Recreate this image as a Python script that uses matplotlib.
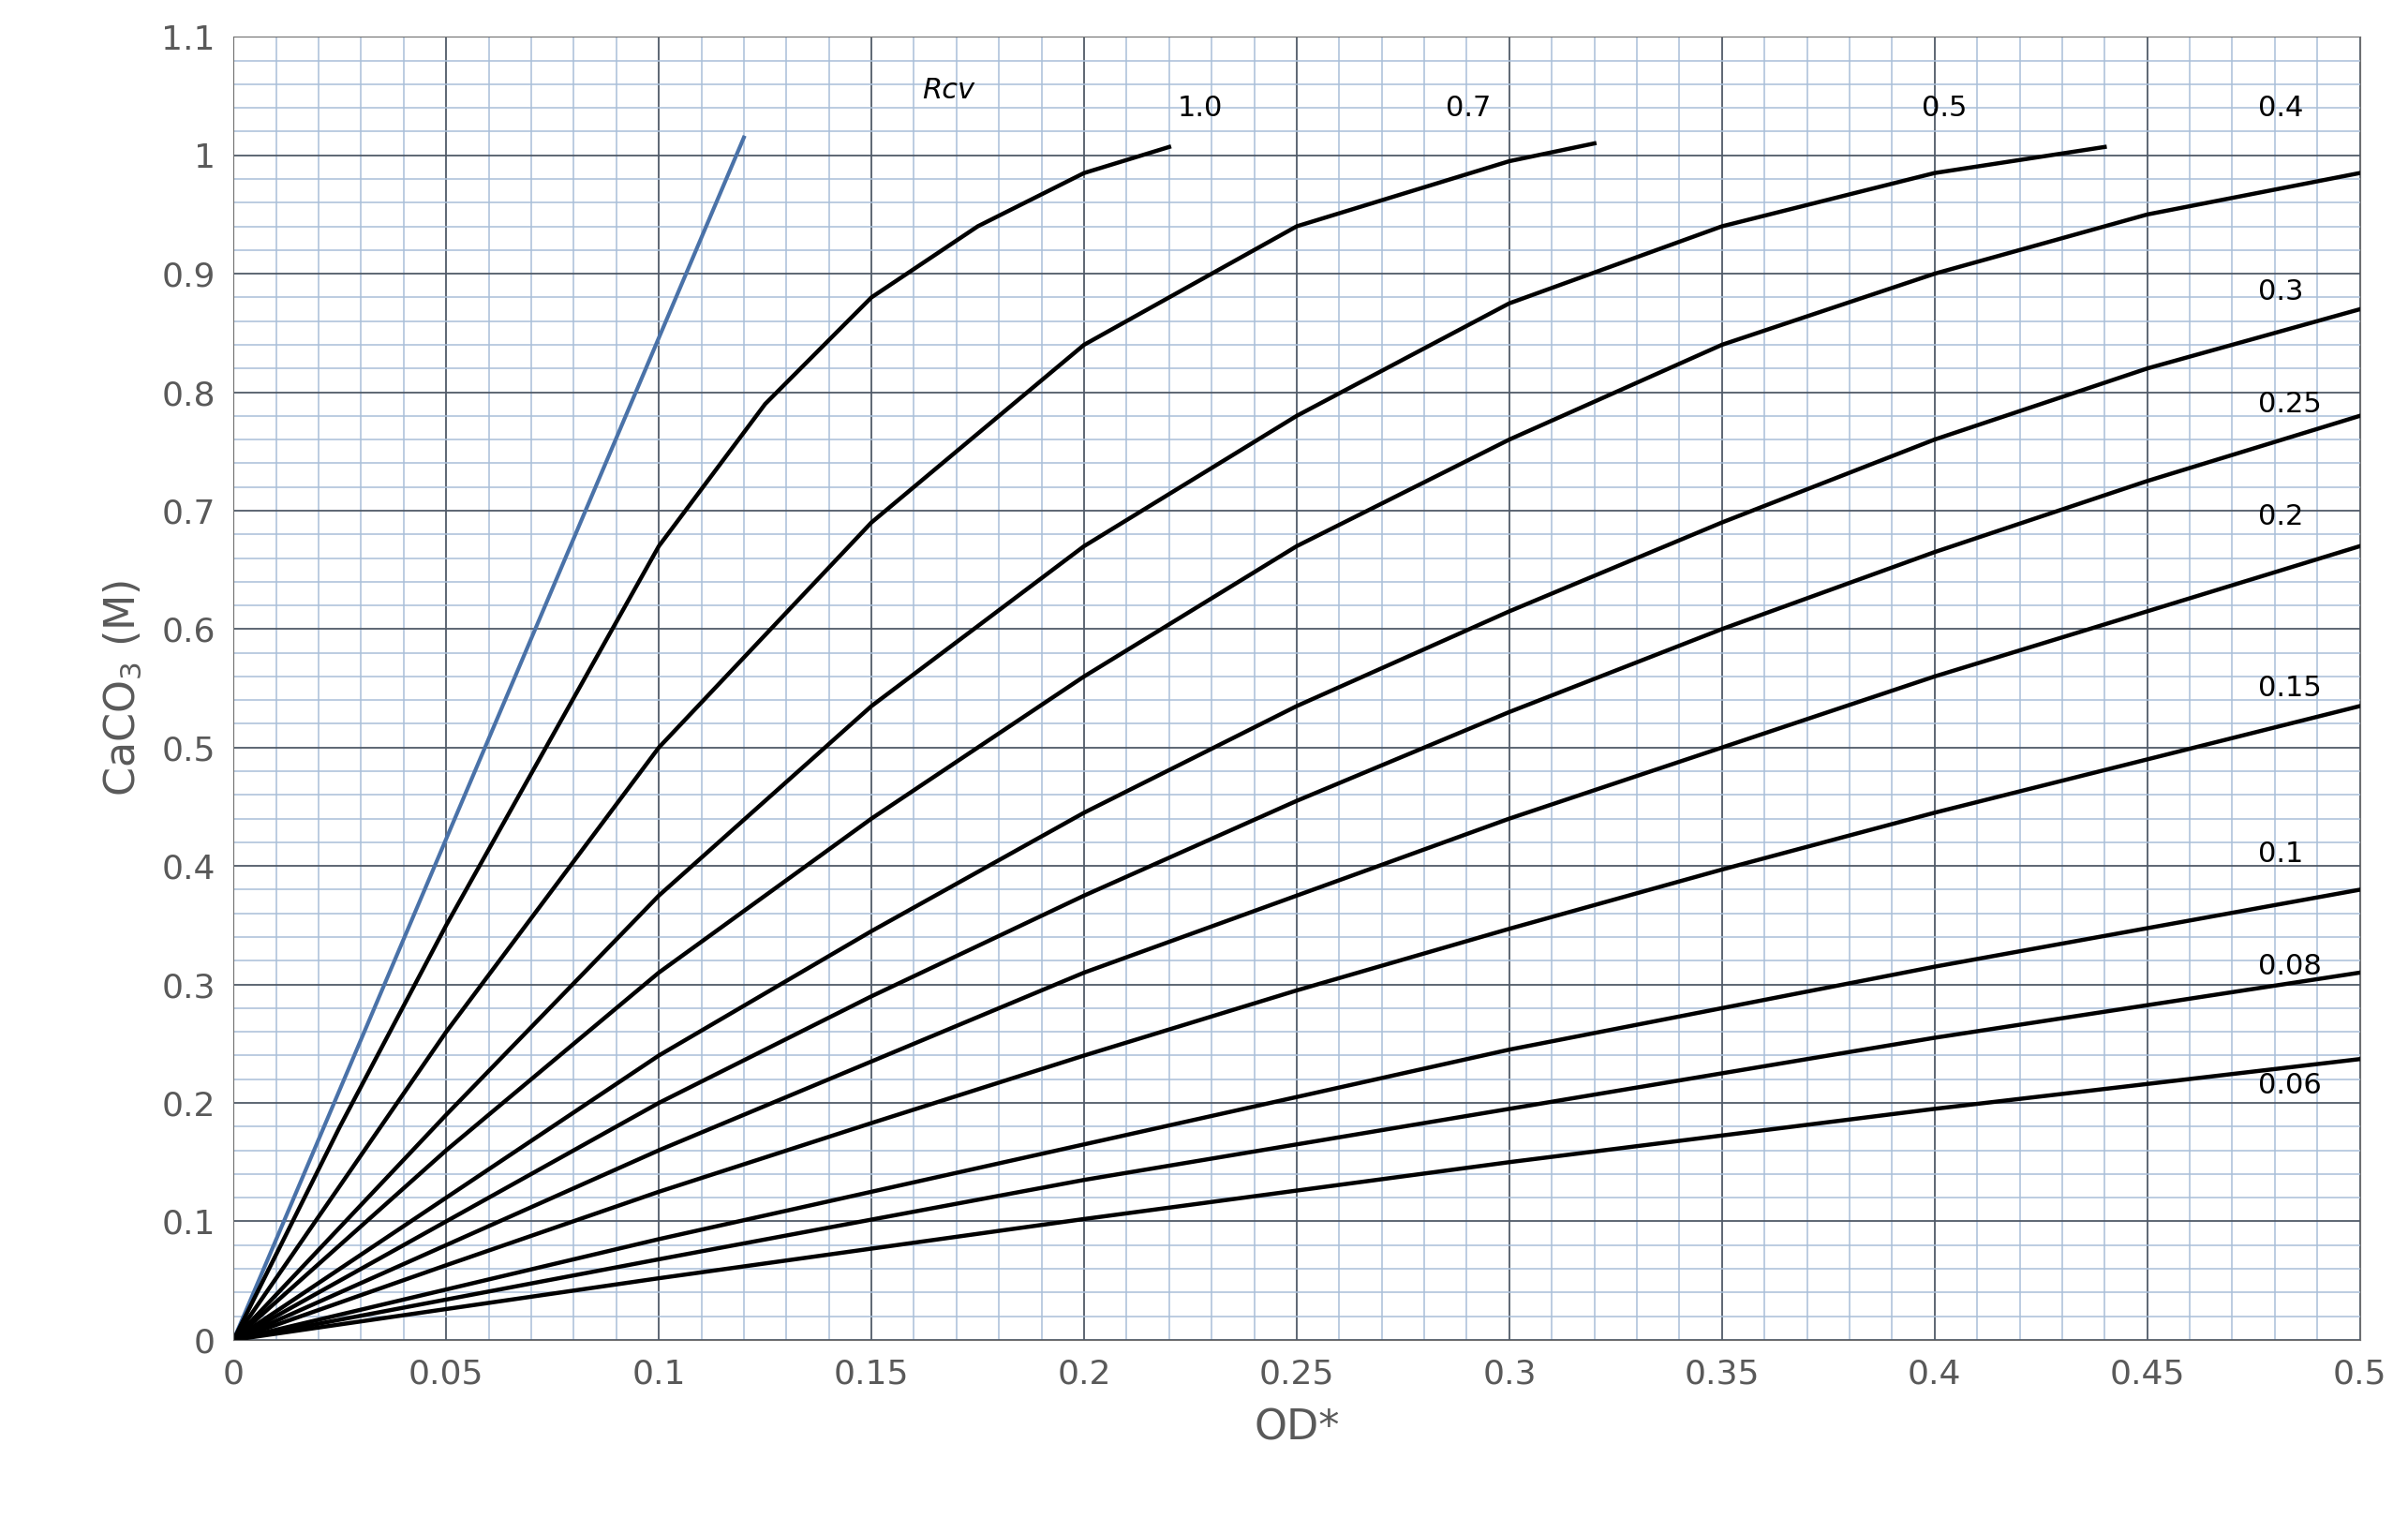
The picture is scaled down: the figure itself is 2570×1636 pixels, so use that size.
import numpy as np
import matplotlib.pyplot as plt
from matplotlib.ticker import MultipleLocator

# values (OD*, CaCO3 in M)
blue_x = [0, 0.12]
blue_y = [0, 1.015]

rcv_labels = ["1.0", "0.7", "0.5", "0.4", "0.3", "0.25", "0.2", "0.15", "0.1", "0.08", "0.06"]
curve_x = [
    [0, 0.025, 0.05, 0.075, 0.1, 0.125, 0.15, 0.175, 0.2, 0.22],
    [0, 0.05, 0.1, 0.15, 0.2, 0.25, 0.3, 0.32],
    [0, 0.05, 0.1, 0.15, 0.2, 0.25, 0.3, 0.35, 0.4, 0.44],
    [0, 0.05, 0.1, 0.15, 0.2, 0.25, 0.3, 0.35, 0.4, 0.45, 0.5],
    [0, 0.05, 0.1, 0.15, 0.2, 0.25, 0.3, 0.35, 0.4, 0.45, 0.5],
    [0, 0.05, 0.1, 0.15, 0.2, 0.25, 0.3, 0.35, 0.4, 0.45, 0.5],
    [0, 0.05, 0.1, 0.15, 0.2, 0.25, 0.3, 0.35, 0.4, 0.45, 0.5],
    [0, 0.05, 0.1, 0.15, 0.2, 0.25, 0.3, 0.35, 0.4, 0.45, 0.5],
    [0, 0.1, 0.2, 0.3, 0.4, 0.5],
    [0, 0.1, 0.2, 0.3, 0.4, 0.5],
    [0, 0.1, 0.2, 0.3, 0.4, 0.5],
]
curve_y = [
    [0, 0.18, 0.35, 0.51, 0.67, 0.79, 0.88, 0.94, 0.985, 1.007],
    [0, 0.26, 0.50, 0.69, 0.84, 0.94, 0.995, 1.01],
    [0, 0.19, 0.375, 0.535, 0.67, 0.78, 0.875, 0.94, 0.985, 1.007],
    [0, 0.16, 0.31, 0.44, 0.56, 0.67, 0.76, 0.84, 0.90, 0.95, 0.985],
    [0, 0.12, 0.24, 0.345, 0.445, 0.535, 0.615, 0.69, 0.76, 0.82, 0.87],
    [0, 0.10, 0.20, 0.29, 0.375, 0.455, 0.53, 0.60, 0.665, 0.725, 0.78],
    [0, 0.08, 0.16, 0.235, 0.31, 0.375, 0.44, 0.50, 0.56, 0.615, 0.67],
    [0, 0.063, 0.125, 0.183, 0.24, 0.295, 0.347, 0.397, 0.445, 0.49, 0.535],
    [0, 0.085, 0.165, 0.245, 0.315, 0.38],
    [0, 0.068, 0.135, 0.195, 0.255, 0.31],
    [0, 0.052, 0.102, 0.15, 0.195, 0.237],
]
# label anchor positions for each Rcv value
label_pos = [(0.222, 1.04), (0.285, 1.04), (0.397, 1.04), (0.476, 1.04),
             (0.476, 0.885), (0.476, 0.79), (0.476, 0.695), (0.476, 0.55),
             (0.476, 0.41), (0.476, 0.315), (0.476, 0.215)]

fig = plt.figure(figsize=(25.7, 16.36), dpi=100)
ax = fig.add_axes([0.097, 0.126, 0.883, 0.85])

ax.plot(blue_x, blue_y, color="#4a72a8", lw=3)
for xs, ys in zip(curve_x, curve_y):
    ax.plot(xs, ys, color="black", lw=3.2)

for lab, (lx, ly) in zip(rcv_labels, label_pos):
    ax.text(lx, ly, lab, fontsize=22, color="black", va="center")
ax.text(0.162, 1.055, "Rcv", fontsize=22, style="italic", va="center")

ax.set_xlim(0, 0.5)
ax.set_ylim(0, 1.1)
ax.xaxis.set_major_locator(MultipleLocator(0.05))
ax.yaxis.set_major_locator(MultipleLocator(0.1))
ax.xaxis.set_minor_locator(MultipleLocator(0.01))
ax.yaxis.set_minor_locator(MultipleLocator(0.02))
ax.grid(which="major", color="#505a68", lw=1.3)
ax.grid(which="minor", color="#a9bfd9", lw=1.1)
ax.set_axisbelow(True)
ax.tick_params(which="both", length=0, labelsize=26, labelcolor="#595959", pad=14)

ax.xaxis.set_major_formatter(plt.FuncFormatter(lambda v, p: f"{v:g}"))
ax.yaxis.set_major_formatter(plt.FuncFormatter(lambda v, p: f"{v:g}"))
for s in ax.spines.values():
    s.set_color("#707070")

ax.set_xlabel("OD*", fontsize=32, color="#595959", labelpad=14)
ax.set_ylabel("CaCO$_3$ (M)", fontsize=32, color="#595959", labelpad=14)

fig.savefig("out.png", dpi=100)
